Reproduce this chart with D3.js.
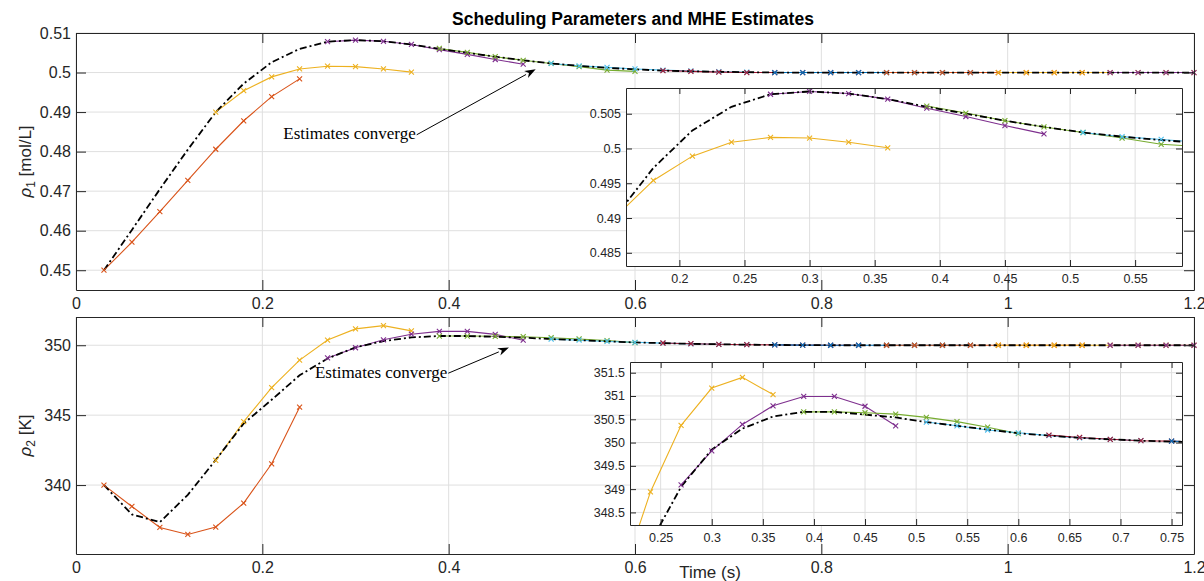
<!DOCTYPE html>
<html>
<head>
<meta charset="utf-8">
<script src="https://cdn.jsdelivr.net/npm/d3@7"></script>
<style>
  body { margin: 0; background: #fff; }
  svg { display: block; font-family: "Liberation Sans", Arial, sans-serif; }
</style>
</head>
<body>
<svg id="chart" width="1204" height="581"></svg>
<script>
// sample times of the scheduling parameters (s)
const tSample = [0.03, 0.06, 0.09, 0.12, 0.15, 0.18, 0.21, 0.24, 0.27, 0.30,
  0.33, 0.36, 0.39, 0.42, 0.45, 0.48, 0.51, 0.54, 0.57, 0.60,
  0.63, 0.66, 0.69, 0.72, 0.75, 0.78, 0.81, 0.84, 0.87, 0.90,
  0.93, 0.96, 0.99, 1.02, 1.05, 1.08, 1.11, 1.14, 1.17, 1.20];

// true trajectories (black dash-dot)
const trueRho1 = [0.4500, 0.4602, 0.4705, 0.4805, 0.4900, 0.4972, 0.5026, 0.5060, 0.5078, 0.5082,
  0.5079, 0.5071, 0.5060, 0.5050, 0.5040, 0.5031, 0.5023, 0.5017, 0.5012, 0.5008,
  0.5005, 0.5003, 0.5002, 0.5001, 0.5000, 0.5000, 0.5000, 0.5000, 0.5000, 0.5000,
  0.5000, 0.5000, 0.5000, 0.5000, 0.5000, 0.5000, 0.5000, 0.5000, 0.5000, 0.5000];
const trueRho2 = [340.0, 337.9, 337.35, 339.3, 341.8, 344.4, 346.1, 347.85, 349.05, 349.85,
  350.3, 350.56, 350.66, 350.66, 350.6, 350.54, 350.44, 350.36, 350.28, 350.2,
  350.15, 350.1, 350.07, 350.04, 350.02, 350.01, 350.0, 350.0, 350.0, 350.0,
  350.0, 350.0, 350.0, 350.0, 350.0, 350.0, 350.0, 350.0, 350.0, 350.0];

// MHE horizon windows: index of first sample and colour of each window
const segStart = [0, 4, 8, 12, 16, 20, 24, 28, 32, 36];
const segColors = ["#D95319", "#EDB120", "#7E2F8E", "#77AC30", "#4DBEEE",
  "#A2142F", "#0072BD", "#D95319", "#EDB120", "#7E2F8E"];

const estRho1 = [
  [0.4500, 0.4571, 0.4648, 0.4727, 0.4806, 0.4878, 0.4939, 0.4984],
  [0.4900, 0.4954, 0.4989, 0.5009, 0.5016, 0.5015, 0.5009, 0.5001],
  [0.5078, 0.5082, 0.5079, 0.5071, 0.5058, 0.5046, 0.5033, 0.5021],
  [0.5061, 0.5051, 0.5040, 0.5031, 0.5023, 0.5015, 0.5006, 0.5003],
  [0.5023, 0.5017, 0.5013, 0.5009, 0.5006, 0.5004, 0.5002, 0.5001],
  [0.5005, 0.5003, 0.5001, 0.5000, 0.5000, 0.5000, 0.5000, 0.5000],
  [0.5000, 0.5000, 0.5000, 0.5000, 0.5000, 0.5000, 0.5000, 0.5000],
  [0.5000, 0.5000, 0.5000, 0.5000, 0.5000, 0.5000, 0.5000, 0.5000],
  [0.5000, 0.5000, 0.5000, 0.5000, 0.5000, 0.5000, 0.5000, 0.5000],
  [0.5000, 0.5000, 0.5000, 0.5000]
];
const estRho2 = [
  [340.0, 338.47, 336.97, 336.47, 337.0, 338.71, 341.52, 345.57],
  [341.76, 344.54, 346.97, 348.94, 350.37, 351.17, 351.40, 351.03],
  [349.09, 349.82, 350.39, 350.79, 350.99, 350.99, 350.78, 350.36],
  [350.66, 350.66, 350.64, 350.61, 350.54, 350.45, 350.33, 350.19],
  [350.44, 350.36, 350.27, 350.21, 350.15, 350.10, 350.07, 350.04],
  [350.16, 350.11, 350.07, 350.04, 350.03, 350.01, 350.0, 350.0],
  [350.03, 350.01, 350.0, 350.0, 350.0, 350.0, 350.0, 350.0],
  [350.0, 350.0, 350.0, 350.0, 350.0, 350.0, 350.0, 350.0],
  [350.0, 350.0, 350.0, 350.0, 350.0, 350.0, 350.0, 350.0],
  [350.0, 350.0, 350.0, 350.0]
];

// tick values
const mainXTicks = [0, 0.2, 0.4, 0.6, 0.8, 1, 1.2];
const rho1Ticks = [0.45, 0.46, 0.47, 0.48, 0.49, 0.5, 0.51];
const rho2Ticks = [340, 345, 350];
const inset1XTicks = [0.2, 0.25, 0.3, 0.35, 0.4, 0.45, 0.5, 0.55];
const inset1YTicks = [0.485, 0.49, 0.495, 0.5, 0.505];
const inset2XTicks = [0.25, 0.3, 0.35, 0.4, 0.45, 0.5, 0.55, 0.6, 0.65, 0.7, 0.75];
const inset2YTicks = [348.5, 349, 349.5, 350, 350.5, 351, 351.5];

const svg = d3.select("#chart");
const axisColor = "#262626";
const gridColor = "#dfdfdf";
const fmt = d3.format("~g");
let clipCount = 0;

function makeAxes(cfg) {
  const g = svg.append("g");
  const x = d3.scaleLinear().domain(cfg.xDomain).range([cfg.left, cfg.right]);
  const y = d3.scaleLinear().domain(cfg.yDomain).range([cfg.bottom, cfg.top]);

  g.append("rect")
    .attr("x", cfg.left).attr("y", cfg.top)
    .attr("width", cfg.right - cfg.left).attr("height", cfg.bottom - cfg.top)
    .attr("fill", "#fff");

  // grid
  g.append("g").selectAll("line").data(cfg.xTicks).join("line")
    .attr("x1", d => x(d)).attr("x2", d => x(d))
    .attr("y1", cfg.top).attr("y2", cfg.bottom)
    .attr("stroke", gridColor).attr("stroke-width", 1);
  g.append("g").selectAll("line").data(cfg.yTicks).join("line")
    .attr("x1", cfg.left).attr("x2", cfg.right)
    .attr("y1", d => y(d)).attr("y2", d => y(d))
    .attr("stroke", gridColor).attr("stroke-width", 1);

  const clipId = "clip" + (clipCount++);
  g.append("clipPath").attr("id", clipId).append("rect")
    .attr("x", cfg.left).attr("y", cfg.top)
    .attr("width", cfg.right - cfg.left).attr("height", cfg.bottom - cfg.top);
  const plot = g.append("g").attr("clip-path", `url(#${clipId})`);
  const marks = g.append("g");
  return { g, x, y, plot, marks, cfg };
}

// firstSeg: the zoomed inset of rho1 leaves out the first window
function drawSeries(ax, trueVals, estVals, firstSeg = 0) {
  const line = d3.line().x(d => ax.x(d[0])).y(d => ax.y(d[1]));
  const [x0, x1] = ax.cfg.xDomain;
  const [y0, y1] = ax.cfg.yDomain;

  estVals.forEach((vals, i) => {
    if (i < firstSeg) return;
    const pts = vals.map((v, j) => [tSample[segStart[i] + j], v]);
    ax.plot.append("path")
      .attr("d", line(pts))
      .attr("fill", "none")
      .attr("stroke", segColors[i])
      .attr("stroke-width", 1.1);
    ax.marks.append("g").selectAll("path")
      .data(pts.filter(p => p[0] >= x0 && p[0] <= x1 && p[1] >= y0 && p[1] <= y1))
      .join("path")
      .attr("transform", d => `translate(${ax.x(d[0])},${ax.y(d[1])})`)
      .attr("d", "M-2.5,-2.5L2.5,2.5M-2.5,2.5L2.5,-2.5")
      .attr("fill", "none")
      .attr("stroke", segColors[i])
      .attr("stroke-width", 1.1);
  });

  const truePts = trueVals.map((v, j) => [tSample[j], v]);
  ax.plot.append("path")
    .attr("d", line(truePts))
    .attr("fill", "none")
    .attr("stroke", "#000")
    .attr("stroke-width", 1.8)
    .attr("stroke-dasharray", "7,3,2,3");
}

function finishAxes(ax) {
  const c = ax.cfg;
  const style = sel => sel
    .attr("font-size", c.fontSize)
    .attr("font-family", "'Liberation Sans', Arial, sans-serif")
    .attr("color", axisColor)
    .call(s => s.selectAll("text").attr("fill", axisColor))
    .call(s => s.select(".domain").attr("stroke-width", 1));

  ax.g.append("g")
    .attr("transform", `translate(0,${c.bottom})`)
    .call(d3.axisBottom(ax.x).tickValues(c.xTicks).tickFormat(fmt)
      .tickSize(-c.tick).tickSizeOuter(0).tickPadding(c.xPad))
    .call(style);
  ax.g.append("g")
    .attr("transform", `translate(0,${c.top})`)
    .call(d3.axisTop(ax.x).tickValues(c.xTicks).tickFormat("")
      .tickSize(-c.tick).tickSizeOuter(0))
    .call(style);
  ax.g.append("g")
    .attr("transform", `translate(${c.left},0)`)
    .call(d3.axisLeft(ax.y).tickValues(c.yTicks).tickFormat(fmt)
      .tickSize(-c.tick).tickSizeOuter(0).tickPadding(c.yPad))
    .call(style);
  ax.g.append("g")
    .attr("transform", `translate(${c.right},0)`)
    .call(d3.axisRight(ax.y).tickValues(c.yTicks).tickFormat("")
      .tickSize(-c.tick).tickSizeOuter(0))
    .call(style);
}

function arrow(ax, tail, tip, label) {
  const [xa, ya] = [ax.x(tail[0]), ax.y(tail[1])];
  const [xb, yb] = [ax.x(tip[0]), ax.y(tip[1])];
  const ang = Math.atan2(yb - ya, xb - xa);
  const len = 11, half = 4;
  const bx = xb - len * Math.cos(ang), by = yb - len * Math.sin(ang);
  svg.append("line")
    .attr("x1", xa).attr("y1", ya).attr("x2", bx).attr("y2", by)
    .attr("stroke", "#000").attr("stroke-width", 1);
  const nx = -Math.sin(ang), ny = Math.cos(ang);
  const ix = xb - 0.7 * len * Math.cos(ang), iy = yb - 0.7 * len * Math.sin(ang);
  svg.append("path")
    .attr("d", `M${xb},${yb}L${bx + half * nx},${by + half * ny}L${ix},${iy}L${bx - half * nx},${by - half * ny}Z`)
    .attr("fill", "#000");
  svg.append("text")
    .attr("x", xa - 1).attr("y", ya + 4.5)
    .attr("text-anchor", "end")
    .attr("font-family", "'Liberation Serif', 'Times New Roman', serif")
    .attr("font-size", 17)
    .attr("fill", "#000")
    .text(label);
}

function yLabel(x, y, sub, unit) {
  const t = svg.append("text")
    .attr("transform", `translate(${x},${y}) rotate(-90)`)
    .attr("text-anchor", "middle")
    .attr("font-size", 17)
    .attr("fill", axisColor);
  t.append("tspan").attr("font-style", "italic").text("ρ");
  t.append("tspan").attr("font-size", 12).attr("dy", 4).text(sub);
  t.append("tspan").attr("dy", -4).text(" " + unit);
}

// ---- top panel (rho1)
const topAx = makeAxes({
  left: 76, right: 1194, top: 33, bottom: 290,
  xDomain: [0, 1.2], yDomain: [0.445, 0.51],
  xTicks: mainXTicks, yTicks: rho1Ticks,
  tick: 10, fontSize: 16, xPad: 8, yPad: 5
});
drawSeries(topAx, trueRho1, estRho1);
finishAxes(topAx);

const topInset = makeAxes({
  left: 626, right: 1182, top: 88, bottom: 266,
  xDomain: [0.159, 0.586], yDomain: [0.4831, 0.5087],
  xTicks: inset1XTicks, yTicks: inset1YTicks,
  tick: 6, fontSize: 12.5, xPad: 8, yPad: 5
});
drawSeries(topInset, trueRho1, estRho1, 1);
finishAxes(topInset);

// ---- bottom panel (rho2)
const botAx = makeAxes({
  left: 76, right: 1194, top: 317, bottom: 554,
  xDomain: [0, 1.2], yDomain: [335.07, 352.02],
  xTicks: mainXTicks, yTicks: rho2Ticks,
  tick: 10, fontSize: 16, xPad: 8, yPad: 5
});
drawSeries(botAx, trueRho2, estRho2);
finishAxes(botAx);

const botInset = makeAxes({
  left: 630, right: 1182, top: 362, bottom: 525,
  xDomain: [0.22, 0.7602], yDomain: [348.23, 351.73],
  xTicks: inset2XTicks, yTicks: inset2YTicks,
  tick: 6, fontSize: 12.5, xPad: 8, yPad: 5
});
drawSeries(botInset, trueRho2, estRho2);
finishAxes(botInset);

// ---- labels and annotations
svg.append("text")
  .attr("x", 633).attr("y", 25)
  .attr("text-anchor", "middle")
  .attr("font-size", 17.5).attr("font-weight", "bold")
  .attr("fill", "#000")
  .text("Scheduling Parameters and MHE Estimates");

yLabel(31, 161.5, "1", "[mol/L]");
yLabel(31, 435.5, "2", "[K]");

svg.append("text")
  .attr("x", 710).attr("y", 578)
  .attr("text-anchor", "middle")
  .attr("font-size", 17)
  .attr("fill", axisColor)
  .text("Time (s)");

arrow(topAx, [0.3657, 0.48426], [0.4934, 0.50085], "Estimates converge");
arrow(botAx, [0.3996, 348.0], [0.4647, 349.83], "Estimates converge");
</script>
</body>
</html>
